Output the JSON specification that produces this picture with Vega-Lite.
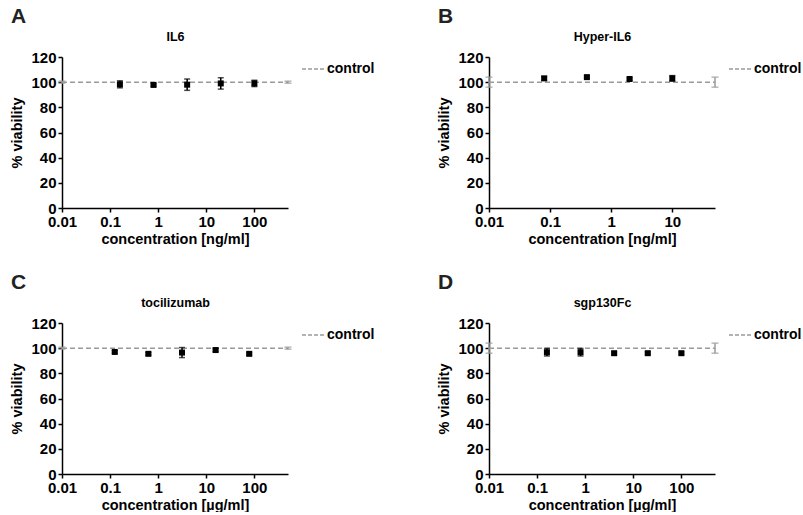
{
  "$schema": "https://vega.github.io/schema/vega-lite/v6.json",
  "padding": {"left": 9, "top": 6, "right": 0, "bottom": 0},
  "columns": 2,
  "spacing": {"row": 26, "column": 61},
  "config": {
    "font": "Liberation Sans",
    "view": {"stroke": null},
    "axis": {"domainColor": "#000", "domainWidth": 1.5, "tickColor": "#000", "tickWidth": 1.5, "tickSize": 4, "labelFontSize": 15, "labelFontWeight": "bold", "labelColor": "#000", "titleFontSize": 14.5, "titleFontWeight": "bold", "titleColor": "#000", "grid": false, "labelPadding": 2, "labelFlush": false, "labelOverlap": false},
    "axisY": {"titlePadding": 6},
    "axisX": {"titlePadding": 3},
    "title": {"anchor": "start", "frame": "group", "dx": -51, "fontSize": 21, "fontWeight": "bold", "color": "#222", "offset": 3},
    "legend": {"orient": "right", "offset": 10, "padding": 0, "labelFontSize": 14, "labelFontWeight": "bold", "labelColor": "#000", "symbolType": "stroke", "symbolStrokeWidth": 1.5, "symbolDash": [4, 2], "symbolSize": 484, "symbolStrokeColor": "#9a9a9a", "labelOffset": 2}
  },
  "resolve": {"scale": {"x": "independent", "color": "independent"}, "legend": {"color": "independent"}},
  "concat": [
    {
      "width": 226, "height": 151,
      "title": {"text": "A"},
      "layer": [
        {
          "data": {"values": [{"conc": 0.01, "mean": 100, "sd": 0.8, "series": "control"}, {"conc": 500, "mean": 100, "sd": 0.8, "series": "control"}]},
          "encoding": {
            "x": {"field": "conc", "type": "quantitative", "scale": {"type": "log", "domain": [0.01, 500], "nice": false}, "axis": {"orient": "top", "title": "IL6", "titleFontSize": 12.5, "titlePadding": 14, "labels": false, "ticks": false, "domain": false}},
            "y": {"field": "mean", "type": "quantitative", "title": "% viability", "scale": {"domain": [0, 120], "nice": false}, "axis": {"values": [0, 20, 40, 60, 80, 100, 120]}}
          },
          "layer": [
            {"mark": {"type": "line", "strokeDash": [5, 3], "strokeWidth": 1.5}, "encoding": {"color": {"field": "series", "type": "nominal", "scale": {"range": ["#9a9a9a"]}, "title": null}}},
            {"mark": {"type": "errorbar", "ticks": {"size": 7}, "color": "#9a9a9a", "thickness": 1.5}, "encoding": {"yError": {"field": "sd"}}}
          ]
        },
        {
          "data": {"values": [{"conc": 0.16, "mean": 98.3, "sd": 2.8}, {"conc": 0.8, "mean": 97.8, "sd": 1}, {"conc": 4, "mean": 98, "sd": 4.5}, {"conc": 20, "mean": 99, "sd": 4.5}, {"conc": 100, "mean": 99, "sd": 2.5}]},
          "encoding": {
            "x": {"field": "conc", "type": "quantitative", "axis": {"orient": "bottom", "values": [0.01, 0.1, 1, 10, 100], "format": "~g", "title": "concentration [ng/ml]"}},
            "y": {"field": "mean", "type": "quantitative", "title": "% viability", "axis": {"values": [0, 20, 40, 60, 80, 100, 120]}}
          },
          "layer": [
            {"mark": {"type": "errorbar", "ticks": {"size": 6}, "color": "#000", "thickness": 1.5}, "encoding": {"yError": {"field": "sd"}}},
            {"mark": {"type": "square", "size": 36, "color": "#000", "opacity": 1}}
          ]
        }
      ],
      "resolve": {"axis": {"x": "independent"}}
    },
    {
      "width": 226, "height": 151,
      "title": {"text": "B"},
      "layer": [
        {
          "data": {"values": [{"conc": 0.01, "mean": 100, "sd": 4, "series": "control"}, {"conc": 50, "mean": 100, "sd": 4, "series": "control"}]},
          "encoding": {
            "x": {"field": "conc", "type": "quantitative", "scale": {"type": "log", "domain": [0.01, 50], "nice": false}, "axis": {"orient": "top", "title": "Hyper-IL6", "titleFontSize": 12.5, "titlePadding": 14, "labels": false, "ticks": false, "domain": false}},
            "y": {"field": "mean", "type": "quantitative", "title": "% viability", "scale": {"domain": [0, 120], "nice": false}, "axis": {"values": [0, 20, 40, 60, 80, 100, 120]}}
          },
          "layer": [
            {"mark": {"type": "line", "strokeDash": [5, 3], "strokeWidth": 1.5}, "encoding": {"color": {"field": "series", "type": "nominal", "scale": {"range": ["#9a9a9a"]}, "title": null}}},
            {"mark": {"type": "errorbar", "ticks": {"size": 7}, "color": "#9a9a9a", "thickness": 1.5}, "encoding": {"yError": {"field": "sd"}}}
          ]
        },
        {
          "data": {"values": [{"conc": 0.08, "mean": 103, "sd": 1.5}, {"conc": 0.4, "mean": 104, "sd": 1}, {"conc": 2, "mean": 102.5, "sd": 1}, {"conc": 10, "mean": 103, "sd": 2.2}]},
          "encoding": {
            "x": {"field": "conc", "type": "quantitative", "axis": {"orient": "bottom", "values": [0.01, 0.1, 1, 10], "format": "~g", "title": "concentration [ng/ml]"}},
            "y": {"field": "mean", "type": "quantitative", "title": "% viability", "axis": {"values": [0, 20, 40, 60, 80, 100, 120]}}
          },
          "layer": [
            {"mark": {"type": "errorbar", "ticks": {"size": 6}, "color": "#000", "thickness": 1.5}, "encoding": {"yError": {"field": "sd"}}},
            {"mark": {"type": "square", "size": 36, "color": "#000", "opacity": 1}}
          ]
        }
      ],
      "resolve": {"axis": {"x": "independent"}}
    },
    {
      "width": 226, "height": 151,
      "title": {"text": "C"},
      "layer": [
        {
          "data": {"values": [{"conc": 0.01, "mean": 100, "sd": 0.8, "series": "control"}, {"conc": 500, "mean": 100, "sd": 0.8, "series": "control"}]},
          "encoding": {
            "x": {"field": "conc", "type": "quantitative", "scale": {"type": "log", "domain": [0.01, 500], "nice": false}, "axis": {"orient": "top", "title": "tocilizumab", "titleFontSize": 12.5, "titlePadding": 14, "labels": false, "ticks": false, "domain": false}},
            "y": {"field": "mean", "type": "quantitative", "title": "% viability", "scale": {"domain": [0, 120], "nice": false}, "axis": {"values": [0, 20, 40, 60, 80, 100, 120]}}
          },
          "layer": [
            {"mark": {"type": "line", "strokeDash": [5, 3], "strokeWidth": 1.5}, "encoding": {"color": {"field": "series", "type": "nominal", "scale": {"range": ["#9a9a9a"]}, "title": null}}},
            {"mark": {"type": "errorbar", "ticks": {"size": 7}, "color": "#9a9a9a", "thickness": 1.5}, "encoding": {"yError": {"field": "sd"}}}
          ]
        },
        {
          "data": {"values": [{"conc": 0.125, "mean": 97, "sd": 1}, {"conc": 0.625, "mean": 95.5, "sd": 1}, {"conc": 3.125, "mean": 96.5, "sd": 4}, {"conc": 15.625, "mean": 98.5, "sd": 1.2}, {"conc": 78.125, "mean": 95.5, "sd": 1}]},
          "encoding": {
            "x": {"field": "conc", "type": "quantitative", "axis": {"orient": "bottom", "values": [0.01, 0.1, 1, 10, 100], "format": "~g", "title": "concentration [µg/ml]"}},
            "y": {"field": "mean", "type": "quantitative", "title": "% viability", "axis": {"values": [0, 20, 40, 60, 80, 100, 120]}}
          },
          "layer": [
            {"mark": {"type": "errorbar", "ticks": {"size": 6}, "color": "#000", "thickness": 1.5}, "encoding": {"yError": {"field": "sd"}}},
            {"mark": {"type": "square", "size": 36, "color": "#000", "opacity": 1}}
          ]
        }
      ],
      "resolve": {"axis": {"x": "independent"}}
    },
    {
      "width": 226, "height": 151,
      "title": {"text": "D"},
      "layer": [
        {
          "data": {"values": [{"conc": 0.01, "mean": 100, "sd": 4, "series": "control"}, {"conc": 500, "mean": 100, "sd": 4, "series": "control"}]},
          "encoding": {
            "x": {"field": "conc", "type": "quantitative", "scale": {"type": "log", "domain": [0.01, 500], "nice": false}, "axis": {"orient": "top", "title": "sgp130Fc", "titleFontSize": 12.5, "titlePadding": 14, "labels": false, "ticks": false, "domain": false}},
            "y": {"field": "mean", "type": "quantitative", "title": "% viability", "scale": {"domain": [0, 120], "nice": false}, "axis": {"values": [0, 20, 40, 60, 80, 100, 120]}}
          },
          "layer": [
            {"mark": {"type": "line", "strokeDash": [5, 3], "strokeWidth": 1.5}, "encoding": {"color": {"field": "series", "type": "nominal", "scale": {"range": ["#9a9a9a"]}, "title": null}}},
            {"mark": {"type": "errorbar", "ticks": {"size": 7}, "color": "#9a9a9a", "thickness": 1.5}, "encoding": {"yError": {"field": "sd"}}}
          ]
        },
        {
          "data": {"values": [{"conc": 0.16, "mean": 96.8, "sd": 3}, {"conc": 0.8, "mean": 96.8, "sd": 3}, {"conc": 4, "mean": 96, "sd": 1}, {"conc": 20, "mean": 96, "sd": 1}, {"conc": 100, "mean": 96, "sd": 1}]},
          "encoding": {
            "x": {"field": "conc", "type": "quantitative", "axis": {"orient": "bottom", "values": [0.01, 0.1, 1, 10, 100], "format": "~g", "title": "concentration [µg/ml]"}},
            "y": {"field": "mean", "type": "quantitative", "title": "% viability", "axis": {"values": [0, 20, 40, 60, 80, 100, 120]}}
          },
          "layer": [
            {"mark": {"type": "errorbar", "ticks": {"size": 6}, "color": "#000", "thickness": 1.5}, "encoding": {"yError": {"field": "sd"}}},
            {"mark": {"type": "square", "size": 36, "color": "#000", "opacity": 1}}
          ]
        }
      ],
      "resolve": {"axis": {"x": "independent"}}
    }
  ]
}
